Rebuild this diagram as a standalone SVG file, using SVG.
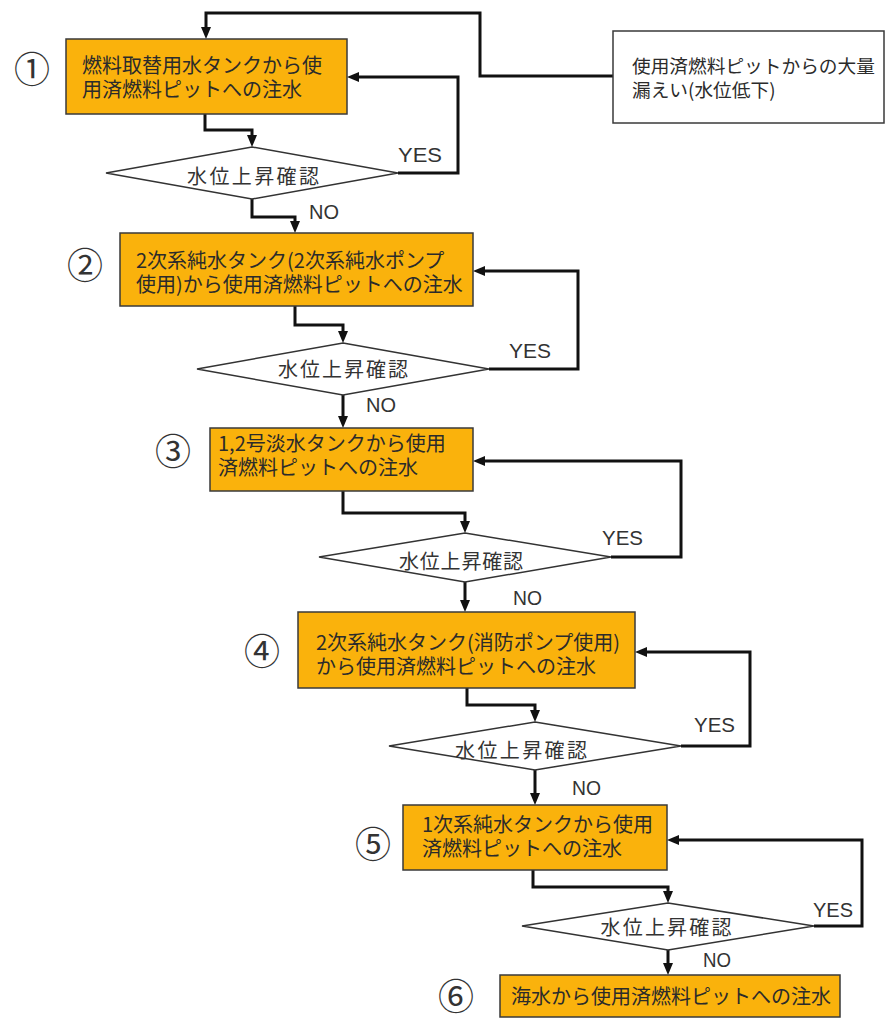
<svg xmlns="http://www.w3.org/2000/svg" width="886" height="1019" viewBox="0 0 886 1019">
<defs>
<marker id="ah" viewBox="0 0 12 10" refX="4" refY="5" markerWidth="12" markerHeight="10" markerUnits="userSpaceOnUse" orient="auto"><path d="M0,0 L12,5 L0,10 z" fill="#111"/></marker>
<style>
.box{fill:#FAB20C;stroke:#3a3a3a;stroke-width:1.5}
.wbox{fill:#fff;stroke:#3a3a3a;stroke-width:1.5}
.dia{fill:#fff;stroke:#333;stroke-width:1.5}
.t{font-family:"Noto Sans CJK JP","Noto Sans CJK SC",sans-serif;font-size:20px;fill:#2b2b2b}
.dt{font-family:"Noto Sans CJK JP",sans-serif;font-size:20px;fill:#333;text-anchor:middle}
.num{font-family:"Noto Sans CJK JP",sans-serif;font-size:36px;fill:#333;text-anchor:middle}
.lb{font-family:"Liberation Sans",Arial,sans-serif;font-size:21px;fill:#333}
.c{fill:none;stroke:#111;stroke-width:3;marker-end:url(#ah)}
</style>
</defs>
<rect width="886" height="1019" fill="#fff"/>
<g id="connectors">
<path class="c" d="M613,76 H480 V13 H206 V31"/>
<path class="c" d="M205,114 V130 H252 V139"/>
<path class="c" d="M398,173 H458 V77 H355"/>
<path class="c" d="M252,199 V217 H295 V225"/>
<path class="c" d="M295,306 V325 H343 V335"/>
<path class="c" d="M489,369 H578 V271 H481"/>
<path class="c" d="M343,395 V420"/>
<path class="c" d="M343,491 V513 H465 V525"/>
<path class="c" d="M611,557 H681 V461 H481"/>
<path class="c" d="M465,582 V604"/>
<path class="c" d="M467,688 V705 H535 V714"/>
<path class="c" d="M681,746 H750 V652 H643"/>
<path class="c" d="M535,770 V797"/>
<path class="c" d="M533,870 V887 H668 V895"/>
<path class="c" d="M814,926 H862 V840 H675"/>
<path class="c" d="M668,950 V967"/>
<text class="lb" x="398" y="162" textLength="44" lengthAdjust="spacingAndGlyphs">YES</text>
<text class="lb" x="509" y="358" textLength="42" lengthAdjust="spacingAndGlyphs">YES</text>
<text class="lb" x="602" y="545" textLength="41" lengthAdjust="spacingAndGlyphs">YES</text>
<text class="lb" x="694" y="732" textLength="41" lengthAdjust="spacingAndGlyphs">YES</text>
<text class="lb" x="813" y="917" textLength="40" lengthAdjust="spacingAndGlyphs">YES</text>
<text class="lb" x="309" y="219" textLength="30" lengthAdjust="spacingAndGlyphs">NO</text>
<text class="lb" x="366" y="412" textLength="30" lengthAdjust="spacingAndGlyphs">NO</text>
<text class="lb" x="513" y="605" textLength="29" lengthAdjust="spacingAndGlyphs">NO</text>
<text class="lb" x="572" y="795" textLength="29" lengthAdjust="spacingAndGlyphs">NO</text>
<text class="lb" x="703" y="967" textLength="28" lengthAdjust="spacingAndGlyphs">NO</text>
</g>
<g id="start">
<rect class="wbox" x="613" y="31" width="271" height="92"/>
<text class="t" style="font-size:18.7px"><tspan x="632" y="73">使用済燃料ピットからの大量</tspan><tspan x="632" y="97">漏えい(水位低下)</tspan></text>
</g>
<g id="step1">
<text class="num" x="32" y="83">①</text>
<rect class="box" x="66" y="39" width="281" height="75"/>
<text class="t"><tspan x="82" y="73">燃料取替用水タンクから使</tspan><tspan x="82" y="97">用済燃料ピットへの注水</tspan></text>
</g>
<g id="check1">
<polygon class="dia" points="252,147 398,173 252,199 106,173"/>
<text class="dt" x="253" y="184" textLength="132">水位上昇確認</text>
</g>
<g id="step2">
<text class="num" x="85" y="279">②</text>
<rect class="box" x="120" y="233" width="353" height="73"/>
<text class="t"><tspan x="136" y="268">2次系純水タンク(2次系純水ポンプ</tspan><tspan x="136" y="292">使用)から使用済燃料ピットへの注水</tspan></text>
</g>
<g id="check2">
<polygon class="dia" points="343,343 489,369 343,395 197,369"/>
<text class="dt" x="343" y="377" textLength="130">水位上昇確認</text>
</g>
<g id="step3">
<text class="num" x="173" y="465">③</text>
<rect class="box" x="210" y="428" width="263" height="63"/>
<text class="t"><tspan x="218" y="451">1,2号淡水タンクから使用</tspan><tspan x="218" y="475">済燃料ピットへの注水</tspan></text>
</g>
<g id="check3">
<polygon class="dia" points="465,533 611,557 465,582 319,557"/>
<text class="dt" x="461" y="569" textLength="124">水位上昇確認</text>
</g>
<g id="step4">
<text class="num" x="262" y="665">④</text>
<rect class="box" x="298" y="612" width="337" height="76"/>
<text class="t"><tspan x="316" y="650">2次系純水タンク(消防ポンプ使用)</tspan><tspan x="316" y="674">から使用済燃料ピットへの注水</tspan></text>
</g>
<g id="check4">
<polygon class="dia" points="535,722 681,746 535,770 389,746"/>
<text class="dt" x="521" y="758" textLength="132">水位上昇確認</text>
</g>
<g id="step5">
<text class="num" x="373" y="858">⑤</text>
<rect class="box" x="403" y="805" width="264" height="65"/>
<text class="t"><tspan x="422" y="832">1次系純水タンクから使用</tspan><tspan x="422" y="856">済燃料ピットへの注水</tspan></text>
</g>
<g id="check5">
<polygon class="dia" points="668,903 814,926 668,950 522,926"/>
<text class="dt" x="666" y="935" textLength="131">水位上昇確認</text>
</g>
<g id="step6">
<text class="num" x="456" y="1010">⑥</text>
<rect class="box" x="500" y="975" width="340" height="42"/>
<text class="t" x="511" y="1004">海水から使用済燃料ピットへの注水</text>
</g>
</svg>
